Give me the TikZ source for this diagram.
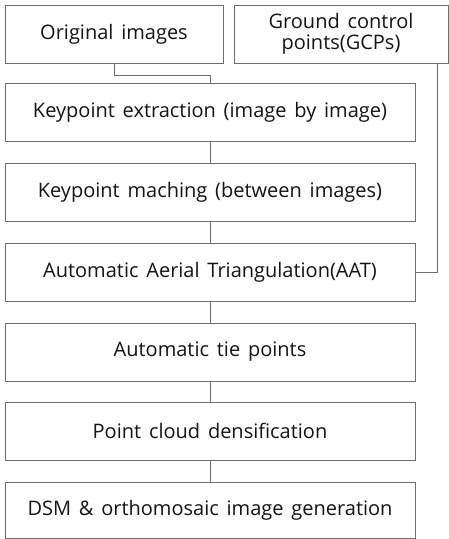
\documentclass[tikz,border=0pt]{standalone}
\usepackage{fontspec}
\setmainfont{Open Sans}[WordSpace={1.5,1,1}]
\usetikzlibrary{calc}

\tikzset{every picture/.style={line width=0.75pt}}
\tikzset{procbox/.style={draw={rgb, 255:red, 110; green, 110; blue, 110 }, inner sep=0.75pt, align=center, font=\fontsize{15}{16}\selectfont, text={rgb, 255:red, 20; green, 20; blue, 20 }}}
\tikzset{link/.style={draw={rgb, 255:red, 110; green, 110; blue, 110 }, line width=0.75pt}}

\begin{document}
\begin{tikzpicture}[x=0.75pt,y=0.75pt,yscale=-1,xscale=1]
\useasboundingbox (0,0) rectangle (449,539);

%Shape: Rectangle [id:orig]
\node [procbox, minimum width=218*0.75pt, minimum height=58*0.75pt] (orig) at (114,34) {Original images};
%Shape: Rectangle [id:gcp]
\node [procbox, minimum width=214*0.75pt, minimum height=58*0.75pt] (gcp) at (341,34) {Ground control\\points(GCPs)};
%Shape: Rectangle [id:kpe]
\node [procbox, minimum width=410*0.75pt, minimum height=58*0.75pt] (kpe) at (210,112) {Keypoint extraction (image by image)};
%Shape: Rectangle [id:kpm]
\node [procbox, minimum width=410*0.75pt, minimum height=58*0.75pt] (kpm) at (210,192) {Keypoint maching (between images)};
%Shape: Rectangle [id:aat]
\node [procbox, minimum width=410*0.75pt, minimum height=58*0.75pt] (aat) at (210,272) {Automatic Aerial Triangulation(AAT)};
%Shape: Rectangle [id:tie]
\node [procbox, minimum width=410*0.75pt, minimum height=58*0.75pt] (tie) at (210,352) {Automatic tie points};
%Shape: Rectangle [id:dense]
\node [procbox, minimum width=410*0.75pt, minimum height=58*0.75pt] (dense) at (210,431) {Point cloud densification};
%Shape: Rectangle [id:dsm]
\node [procbox, minimum width=410*0.75pt, minimum height=56*0.75pt] (dsm) at (210,510) {DSM \& orthomosaic image generation};

%Straight Lines [id:orig-kpe]
\draw [link] (orig.south) -- ++(0,12) -| (kpe.north) ;
%Straight Lines [id:gcp-aat]
\coordinate (gcpturn) at (437,272);
\draw [link] (gcp.south -| gcpturn) |- (aat.east) ;
%Straight Lines
\draw [link] (kpe.south) -- (kpm.north) ;
\draw [link] (kpm.south) -- (aat.north) ;
\draw [link] (aat.south) -- (tie.north) ;
\draw [link] (tie.south) -- (dense.north) ;
\draw [link] (dense.south) -- (dsm.north) ;

\end{tikzpicture}
\end{document}
